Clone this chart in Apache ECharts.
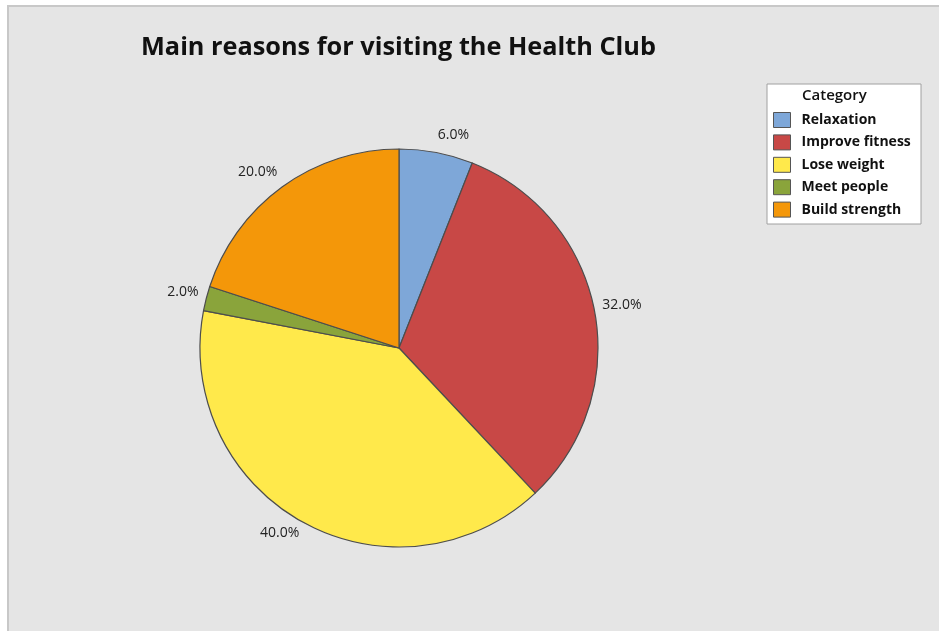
<!DOCTYPE html>
<html>
<head>
<meta charset="utf-8">
<script src="https://cdn.jsdelivr.net/npm/echarts@6/dist/echarts.min.js"></script>
<style>
  html, body { margin: 0; padding: 0; background: #fff; }
  #chart { width: 939px; height: 631px; }
</style>
</head>
<body>
<div id="chart"></div>
<script>
const categories = ['Relaxation', 'Improve fitness', 'Lose weight', 'Meet people', 'Build strength'];
const percents = [6, 32, 40, 2, 20];
const colors = ['#7ea7d8', '#c84846', '#ffe94b', '#8aa43b', '#f49709'];

const chart = echarts.init(document.getElementById('chart'));

const pieCenter = [399, 348];
const pieRadius = 199;
const anchorRadius = 207;
const total = percents.reduce((a, b) => a + b, 0);

// put the label beside the slice's mid-angle point just off the rim:
// left aligned on the right half, right aligned on the left half
function placeLabel(params) {
    let before = 0;
    for (let i = 0; i < params.dataIndex; i++) before += percents[i];
    const mid = (90 - (before + percents[params.dataIndex] / 2) / total * 360) * Math.PI / 180;
    const c = Math.cos(mid), s = Math.sin(mid);
    return {
        x: pieCenter[0] + c * anchorRadius,
        y: pieCenter[1] - s * anchorRadius - 7 * s - 3,
        align: c >= 0 ? 'left' : 'right',
        verticalAlign: 'middle'
    };
}

const option = {
    backgroundColor: '#ffffff',
    animation: false,
    color: colors,
    title: {
        text: 'Main reasons for visiting the Health Club',
        left: 136,
        top: 30,
        textStyle: { fontFamily: 'Open Sans', fontWeight: 700, fontSize: 25.3, color: '#111' }
    },
    graphic: [
        {
            type: 'rect', z: -10,
            shape: { x: 8, y: 6, width: 940, height: 640 },
            style: { fill: '#e5e5e5', stroke: '#c8c8c8', lineWidth: 2 }
        },
        {
            type: 'rect', z: -5,
            shape: { x: 767, y: 84, width: 154, height: 140 },
            style: { fill: '#ffffff', stroke: '#a0a0a0', lineWidth: 1 }
        },
        {
            type: 'text', left: 802, top: 88,
            style: { text: 'Category', font: '600 15px "Open Sans"', fill: '#111' }
        }
    ],
    legend: {
        orient: 'vertical',
        left: 773,
        top: 112,
        padding: 0,
        itemWidth: 17,
        itemHeight: 15,
        itemGap: 6.4,
        icon: 'rect',
        itemStyle: { borderColor: '#555', borderWidth: 1 },
        textStyle: { fontFamily: 'Open Sans', fontWeight: 700, fontSize: 14, lineHeight: 15, color: '#111', padding: [0, 0, 0, 6] },
        data: categories
    },
    series: [{
        type: 'pie',
        center: pieCenter,
        radius: pieRadius,
        startAngle: 90,
        clockwise: true,
        avoidLabelOverlap: false,
        itemStyle: { borderColor: '#4d4d4d', borderWidth: 1.2 },
        label: {
            show: true,
            position: 'outside',
            formatter: p => p.value.toFixed(1) + '%',
            fontFamily: 'Open Sans',
            fontSize: 14,
            color: '#222'
        },
        labelLine: { show: false },
        labelLayout: placeLabel,
        emphasis: { disabled: true },
        data: categories.map((c, i) => ({ name: c, value: percents[i] }))
    }]
};

chart.setOption(option);
</script>
</body>
</html>
